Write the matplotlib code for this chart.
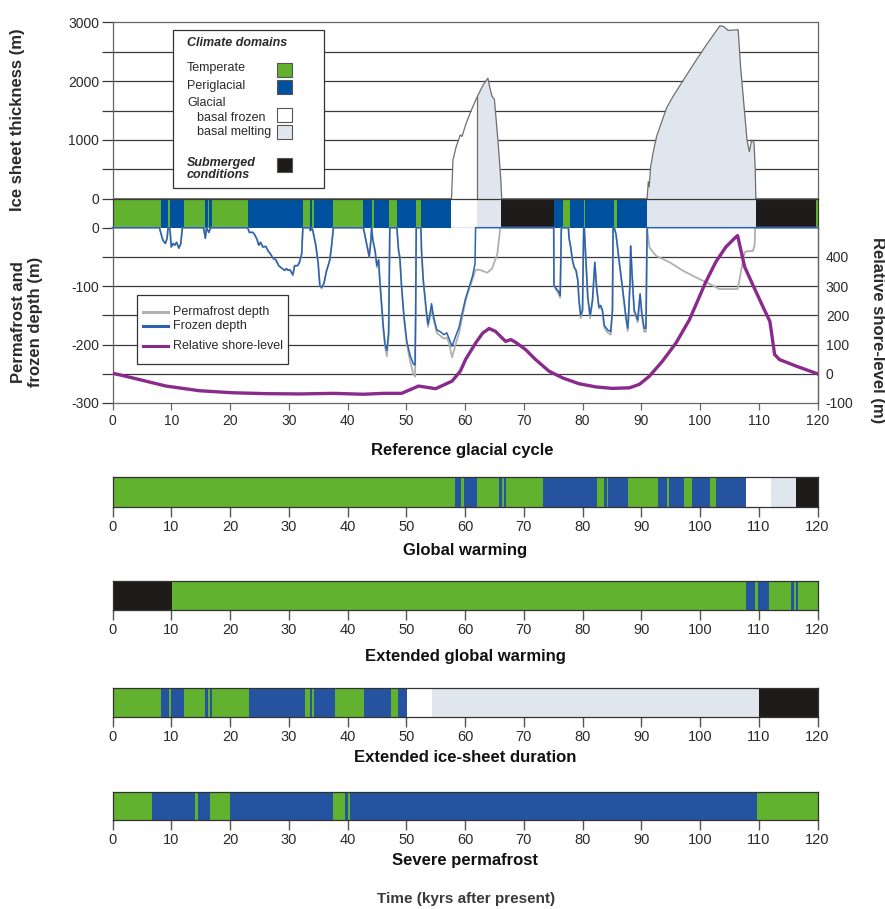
import numpy as np
import matplotlib
matplotlib.use("Agg")
import matplotlib.pyplot as plt
from matplotlib.patches import Rectangle
from matplotlib.lines import Line2D

plt.rcParams.update({"font.family": ["Liberation Sans", "DejaVu Sans"], "font.size": 10,
                     "axes.unicode_minus": False})

GREEN, BLUE, BLUE2 = "#62b12f", "#00519f", "#2553a0"
FROZEN, MELT, SUBM = "#ffffff", "#dfe6ed", "#1e1c1b"
GRIDC, SPINE, TXT = "#3a3a3a", "#666666", "#2a2a2a"
ICE_EDGE, PERM_C, FROZ_C, SHORE_C = "#6e6e6e", "#b0b0b0", "#2a64b0", "#8a2a8c"

# ---- data ----
ice_t = [0, 57.7, 57.95, 58.5, 59.2, 59.5, 60.2, 61.1, 62.1, 63.1, 63.9, 64.2, 64.6, 65.0,
         65.6, 66.1, 66.25, 91.0, 91.1, 91.2, 91.35, 91.6, 92.0, 92.6, 94.3, 95.4, 97.2,
         99.4, 101.1, 103.4, 104.0, 104.8, 106.5, 106.9, 107.4, 108.0, 108.4, 108.8, 109.2,
         109.4, 109.5, 120]
ice_h = [0, 0, 660, 886, 1085, 1060, 1285, 1511, 1738, 1937, 2050, 1900, 1740, 1690,
         1000, 320, 0, 0, 150, 290, 200, 545, 773, 1056, 1540, 1738, 2022,
         2363, 2618, 2942, 2930, 2862, 2873, 2250, 1681, 1000, 800, 1000, 950,
         500, 0, 0]
frozen_base_end = 62.1

fz_t = [0, 8.0, 8.3, 8.6, 9.0, 9.3, 9.45, 9.7, 9.8, 10.0, 10.3, 10.6, 10.9, 11.3, 11.6, 11.9,
        15.5, 15.8, 16.0, 16.4, 16.7,
        23.0, 23.3, 23.9, 24.2, 24.6, 24.9, 25.2, 25.6, 26.1, 26.5, 26.9, 27.3, 27.8, 28.3,
        28.9, 29.3, 29.6, 29.9, 30.2, 30.7, 31.0, 31.5, 31.8, 32.2, 32.4,
        33.5, 33.7, 33.9, 34.1, 34.6, 35.0, 35.3, 35.6, 36.0, 36.4, 37.0, 37.3, 37.6,
        42.7, 42.9, 43.3, 43.7, 44.0, 44.1, 44.3, 44.7, 45.0, 45.3, 45.5, 45.8, 46.1, 46.4,
        46.7, 47.0, 47.1, 47.2,
        48.4, 48.7, 48.9, 49.2, 49.6, 50.1, 50.7, 51.2, 51.5, 51.6, 51.7,
        52.5, 52.6, 52.9, 53.4, 53.7, 54.0, 54.3, 54.6, 55.2, 55.8, 56.4, 56.9, 57.3, 57.8,
        58.4, 59.0, 59.5, 60.1, 60.7, 61.3, 61.7, 61.8,
        75.1, 75.15, 75.5, 76.0, 76.2, 76.4,
        77.6, 77.7, 78.0, 78.3, 78.6, 78.9, 79.2, 79.4, 79.7, 80.0, 80.2,
        80.3, 80.9, 81.3, 81.7, 82.1, 82.4, 82.8, 83.1, 83.4, 83.7, 84.3, 84.8, 85.1, 85.2,
        85.4, 85.7, 86.3, 86.8, 87.4, 87.7, 87.8, 88.1, 88.2, 88.4, 88.8, 89.4, 89.8, 90.1,
        90.5, 90.8, 91.0, 120]
fz_d = [0, 0, -12, -22, -27, -18, 0, 0, -5, -33, -27, -30, -25, -35, -28, 0,
        0, -18, 0, -8, 0,
        0, -8, -8, -12, -20, -30, -25, -33, -32, -40, -45, -52, -55, -65,
        -70, -73, -70, -73, -72, -80, -65, -65, -60, -45, 0,
        0, -5, 0, -5, -30, -60, -100, -102, -95, -75, -55, -30, 0,
        0, -10, -30, -50, -20, 0, -20, -40, -65, -55, -90, -130, -170, -200,
        -210, -180, -100, 0,
        0, -40, -50, -100, -150, -195, -220, -233, -235, -150, 0,
        0, -40, -90, -140, -165, -150, -130, -150, -175, -178, -183, -180, -190, -203,
        -186, -170, -147, -121, -102, -82, -62, 0,
        0, -99, -104, -110, -116, 0,
        0, -17, -34, -56, -68, -73, -90, -124, -150, -141, 0,
        0, -119, -150, -124, -59, -102, -136, -133, -141, -167, -175, -178, -140, 0,
        0, -11, -62, -102, -153, -172, -158, -90, -31, -73, -141, -158, -113, -147,
        -172, -172, 0, 0]

pf_t = [0, 8.0, 8.3, 8.6, 9.0, 9.3, 9.45, 9.7, 9.8, 10.0, 10.3, 10.6, 10.9, 11.3, 11.6, 11.9,
        15.5, 15.8, 16.0, 16.4, 16.7,
        23.0, 23.3, 23.9, 24.2, 24.6, 24.9, 25.2, 25.6, 26.1, 26.5, 26.9, 27.3, 27.8, 28.3,
        28.9, 29.3, 29.6, 29.9, 30.2, 30.7, 31.0, 31.5, 31.8, 32.2, 32.4,
        33.5, 33.7, 33.9, 34.1, 34.6, 35.0, 35.3, 35.6, 36.0, 36.4, 37.0, 37.3, 37.6,
        42.7, 42.9, 43.3, 43.7, 44.0, 44.1, 44.3, 44.7, 45.0, 45.3, 45.5, 45.8, 46.1, 46.4,
        46.7, 47.0, 47.1, 47.2,
        48.4, 48.7, 48.9, 49.2, 49.6, 50.1, 50.7, 51.2, 51.5, 51.6, 51.7,
        52.5, 52.6, 52.9, 53.4, 53.7, 54.0, 54.3, 54.6, 55.2, 55.8, 56.4, 56.9, 57.3, 57.8,
        58.4, 59.0, 59.5, 60.1, 60.7, 61.3, 61.8, 62.5, 63.8, 64.6, 65.5, 65.9, 66.0,
        75.1, 75.15, 75.5, 76.0, 76.2, 76.4,
        77.6, 77.7, 78.0, 78.3, 78.6, 78.9, 79.2, 79.4, 79.7, 80.0, 80.2,
        80.3, 80.9, 81.3, 81.7, 82.1, 82.4, 82.8, 83.1, 83.4, 83.7, 84.3, 84.8, 85.1, 85.2,
        85.4, 85.7, 86.3, 86.8, 87.4, 87.7, 87.8, 88.1, 88.2, 88.4, 88.8, 89.4, 89.8, 90.1,
        90.5, 90.8, 91.0, 91.4, 92.5, 94.8, 97.0, 99.3, 101.6, 103.3, 106.4, 107.0, 107.6,
        108.1, 109.0, 109.3, 109.4, 120]
pf_d = [0, 0, -12, -22, -27, -18, 0, 0, -5, -33, -27, -30, -25, -35, -28, 0,
        0, -18, 0, -8, 0,
        0, -8, -8, -12, -20, -30, -25, -33, -32, -40, -45, -52, -55, -65,
        -70, -73, -70, -73, -72, -82, -65, -65, -60, -45, 0,
        0, -5, 0, -5, -30, -60, -100, -104, -95, -75, -55, -30, 0,
        0, -10, -30, -50, -20, 0, -20, -40, -68, -55, -92, -135, -175, -205,
        -220, -185, -100, 0,
        0, -40, -50, -100, -155, -200, -230, -250, -255, -150, 0,
        0, -40, -92, -145, -170, -155, -135, -155, -180, -185, -190, -188, -198, -222,
        -200, -180, -155, -125, -105, -88, -72, -72, -77, -70, -45, -10, 0,
        0, -99, -106, -114, -120, 0,
        0, -17, -34, -56, -68, -73, -90, -126, -155, -143, 0,
        0, -121, -155, -126, -60, -104, -138, -136, -144, -171, -180, -183, -145, 0,
        0, -11, -62, -104, -157, -177, -161, -92, -32, -75, -144, -162, -115, -150,
        -178, -178, 0, -34, -48, -59, -73, -85, -96, -105, -105, -73, -42,
        -40, -40, -30, 0, 0]

sh_t = [0, 3.4, 9.1, 14.8, 20.5, 26.2, 31.9, 37.6, 42.7, 46.1, 49.2, 52.1, 55.0, 57.8, 59.2,
        60.1, 61.8, 63.0, 64.1, 65.2, 66.9, 67.8, 68.6, 70.3, 72.0, 74.3, 76.6, 79.4, 82.3,
        85.1, 88.0, 89.7, 91.4, 93.6, 95.9, 98.2, 99.3, 101.0, 102.7, 104.4, 106.1, 106.4,
        107.6, 109.0, 110.7, 111.9, 112.7, 113.5, 116.4, 120]
sh_v = [2, -14, -42, -58, -65, -68, -69, -67, -70, -67, -67, -42, -51, -25, 9,
        49, 105, 139, 155, 145, 111, 117, 108, 83, 49, 9, -14, -34, -45,
        -50, -48, -36, -8, 43, 105, 185, 236, 315, 383, 434, 468, 473,
        366, 304, 230, 179, 66, 49, 26, 0]

# climate domain sequences: T temperate, P periglacial, F basal frozen, M basal melting, S submerged
ref_edges = [0, 8.3, 9.5, 9.8, 12.1, 15.8, 16.2, 16.4, 16.9, 23.1, 32.5, 33.6, 34.0, 34.3, 37.6,
             42.7, 44.2, 44.5, 47.1, 48.5, 51.7, 52.5, 57.6, 62.1, 66.2, 75.2, 76.6, 77.8, 80.3,
             80.5, 85.4, 85.8, 90.9, 109.5, 119.8, 120]
ref_codes = "TPTPTPTPTPTPTPTPTPTPTPFMSPTPTPTPMST"

gw_edges = [0, 58.3, 59.4, 59.8, 62.1, 65.8, 66.3, 66.6, 66.9, 73.2, 82.5, 83.7, 84.1, 84.3,
            87.7, 92.8, 94.4, 94.7, 97.2, 98.6, 101.7, 102.7, 107.9, 112.1, 116.4, 120]
gw_codes = "TPTPTPTPTPTPTPTPTPTPTPFMS"

egw_edges = [0, 10.1, 107.9, 109.3, 109.8, 111.8, 115.5, 116.0, 116.3, 116.7, 120]
egw_codes = "STPTPTPTPT"

eid_edges = [0, 8.3, 9.7, 9.9, 12.1, 15.8, 16.3, 16.6, 17.0, 23.2, 32.7, 33.7, 34.0, 34.3,
             37.8, 42.8, 47.4, 48.6, 50.2, 54.4, 110.1, 120]
eid_codes = "TPTPTPTPTPTPTPTPTPFMS"

sp_edges = [0, 6.7, 14.0, 14.5, 16.6, 20.0, 37.5, 39.6, 40.1, 40.5, 109.7, 120]
sp_codes = "TPTPTPTPTPT"

scenarios = ["Global warming", "Extended global warming",
             "Extended ice-sheet duration", "Severe permafrost"]

# ---- layout helpers (pixel positions of the 885x909 reference) ----
W, H = 885, 909
X0, X1 = 112.5, 817.5


def box(top, bottom):
    return [X0 / W, 1 - bottom / H, (X1 - X0) / W, (bottom - top) / H]


def px(x, y):
    return x / W, 1 - y / H


def domain_bar(ax, edges, codes, blue):
    cmap = {"T": GREEN, "P": blue, "F": FROZEN, "M": MELT, "S": SUBM}
    e = np.asarray(edges, float)
    ax.barh(0.5, np.diff(e), left=e[:-1], height=1.0,
            color=[cmap[c] for c in codes], linewidth=0)
    ax.set_xlim(0, 120)
    ax.set_ylim(0, 1)
    ax.set_yticks([])


fig = plt.figure(figsize=(W / 100, H / 100), dpi=100)

# ice sheet thickness
ax_ice = fig.add_axes(box(22.3, 198.7))
t = np.asarray(ice_t, float)
h = np.asarray(ice_h, float)
ax_ice.fill_between(t, 0, h, where=t <= frozen_base_end, color=FROZEN, zorder=3, lw=0)
ax_ice.fill_between(t, 0, h, where=t >= frozen_base_end, color=MELT, zorder=3, lw=0)
ax_ice.plot(t, h, color=ICE_EDGE, lw=0.9, zorder=4)
ax_ice.plot([frozen_base_end] * 2, [0, np.interp(frozen_base_end, t, h)],
            color=ICE_EDGE, lw=0.9, zorder=4)
for g in range(500, 3000, 500):
    ax_ice.axhline(g, color=GRIDC, lw=0.9, zorder=1)
ax_ice.set_xlim(0, 120)
ax_ice.set_ylim(0, 3000)
ax_ice.set_yticks(range(0, 3001, 500),
                  [str(v) if v % 1000 == 0 else "" for v in range(0, 3001, 500)])
ax_ice.tick_params(axis="y", length=8, width=0.9, color=GRIDC, labelsize=10, pad=1.5,
                   labelcolor=TXT)
ax_ice.set_xticks([])
ax_ice.spines["bottom"].set_visible(False)
for s in ("top", "left", "right"):
    ax_ice.spines[s].set_color(SPINE)
    ax_ice.spines[s].set_linewidth(0.9)

# reference domain band
ax_band = fig.add_axes(box(198.7, 227.7))
domain_bar(ax_band, ref_edges, ref_codes, BLUE)
ax_band.set_xticks([])
for s in ax_band.spines.values():
    s.set_color(GRIDC)
    s.set_linewidth(0.9)

# permafrost / frozen depth
ax_pf = fig.add_axes(box(227.7, 403))
for g in range(-250, 0, 50):
    ax_pf.axhline(g, color=GRIDC, lw=0.9, zorder=1)
ax_pf.plot(pf_t, pf_d, color=PERM_C, lw=1.3, zorder=3, clip_on=False)
ax_pf.plot(fz_t, fz_d, color=FROZ_C, lw=1.1, zorder=4, clip_on=False)
ax_pf.set_xlim(0, 120)
ax_pf.set_ylim(-300, 0)
ax_pf.set_yticks(range(-300, 1, 50),
                 [str(v) if v % 100 == 0 else "" for v in range(-300, 1, 50)])
ax_pf.set_xticks(range(0, 121, 10))
ax_pf.tick_params(axis="y", length=8, width=0.9, color=GRIDC, labelsize=10, pad=1.5,
                  labelcolor=TXT)
ax_pf.tick_params(axis="x", length=5, width=0.9, color=SPINE, labelsize=10, pad=3,
                  labelcolor=TXT)
ax_pf.spines["top"].set_visible(False)
for s in ("bottom", "left", "right"):
    ax_pf.spines[s].set_color(SPINE)
    ax_pf.spines[s].set_linewidth(0.9)

ax_sh = ax_pf.twinx()
ax_sh.plot(sh_t, sh_v, color=SHORE_C, lw=2.4, zorder=5)
ax_sh.set_ylim(-100, 500)
ax_sh.set_yticks(range(-100, 401, 100))
ax_sh.tick_params(axis="y", length=0, labelsize=10, pad=6, labelcolor=TXT)
ax_sh.spines["top"].set_visible(False)
ax_sh.spines["right"].set_color(SPINE)
ax_sh.spines["right"].set_linewidth(0.9)
ax_sh.spines["left"].set_visible(False)
ax_sh.spines["bottom"].set_visible(False)

# axis titles of the top panel
fig.text(*px(18, 120), "Ice sheet thickness (m)", rotation=90, ha="center", va="center",
         fontsize=12, fontweight="bold", color=TXT)
fig.text(*px(27, 322), "Permafrost and\nfrozen depth (m)", rotation=90, ha="center",
         va="center", fontsize=12, fontweight="bold", color=TXT, linespacing=1.15)
fig.text(*px(877, 330), "Relative shore-level (m)", rotation=270, ha="center",
         va="center", fontsize=12, fontweight="bold", color=TXT)
fig.text(*px(462, 450), "Reference glacial cycle", ha="center", va="center",
         fontsize=12, fontweight="bold", color="#111111")

# climate domain legend
fig.add_artist(Rectangle(px(173, 188), 151 / W, 158 / H, transform=fig.transFigure,
                         facecolor="white", edgecolor="#333333", lw=0.9, zorder=5))
leg_txt = dict(fontsize=9, color=TXT, va="center", zorder=6)
fig.text(*px(187, 43), "Climate domains", fontweight="bold", style="italic", **leg_txt)
fig.text(*px(187, 68), "Temperate", **leg_txt)
fig.text(*px(187, 86), "Periglacial", **leg_txt)
fig.text(*px(187, 103), "Glacial", **leg_txt)
fig.text(*px(197, 118), "basal frozen", **leg_txt)
fig.text(*px(197, 132), "basal melting", **leg_txt)
fig.text(*px(187, 169), "Submerged\nconditions", fontweight="bold", style="italic",
         linespacing=1.1, **leg_txt)
for (y0, y1), col in zip([(63, 77), (80, 94), (108, 122), (125, 139), (158, 172)],
                         [GREEN, BLUE, FROZEN, MELT, SUBM]):
    fig.add_artist(Rectangle(px(277, y1), 15 / W, (y1 - y0) / H,
                             transform=fig.transFigure, facecolor=col,
                             edgecolor="#555555", lw=0.8, zorder=6))

# line legend
fig.add_artist(Rectangle(px(137, 364), 151 / W, 69 / H, transform=fig.transFigure,
                         facecolor="white", edgecolor="#333333", lw=0.9, zorder=5))
for y, col, lab in [(311.5, PERM_C, "Permafrost depth"), (326, FROZ_C, "Frozen depth"),
                    (346, SHORE_C, "Relative shore-level")]:
    (xa, ya), (xb, _) = px(143, y), px(168, y)
    fig.add_artist(Line2D([xa, xb], [ya, ya], transform=fig.transFigure, color=col,
                          lw=2.2, zorder=6))
    fig.text(*px(173, y), lab, **leg_txt)

# scenario bars
bar_rows = [(477.3, 507.3, 550), (580.7, 610, 657), (688.3, 717.3, 757), (791.7, 820, 861)]
bar_data = [(gw_edges, gw_codes), (egw_edges, egw_codes),
            (eid_edges, eid_codes), (sp_edges, sp_codes)]
for (top, bot, ty), (edges, codes), name in zip(bar_rows, bar_data, scenarios):
    ax = fig.add_axes(box(top, bot))
    domain_bar(ax, edges, codes, BLUE2)
    ax.set_xticks(range(0, 121, 10))
    ax.tick_params(axis="x", length=7, width=1.0, color="#555555", labelsize=10.5,
                   pad=2.5, labelcolor=TXT)
    for s in ax.spines.values():
        s.set_color("#333333")
        s.set_linewidth(0.9)
    fig.text(*px((X0 + X1) / 2, ty), name, ha="center", va="center", fontsize=12,
             fontweight="bold", color="#111111")

fig.text(*px(466, 899), "Time (kyrs after present)", ha="center", va="center",
         fontsize=11, fontweight="bold", color="#3a3a3a")

fig.savefig("out.png", dpi=100)
